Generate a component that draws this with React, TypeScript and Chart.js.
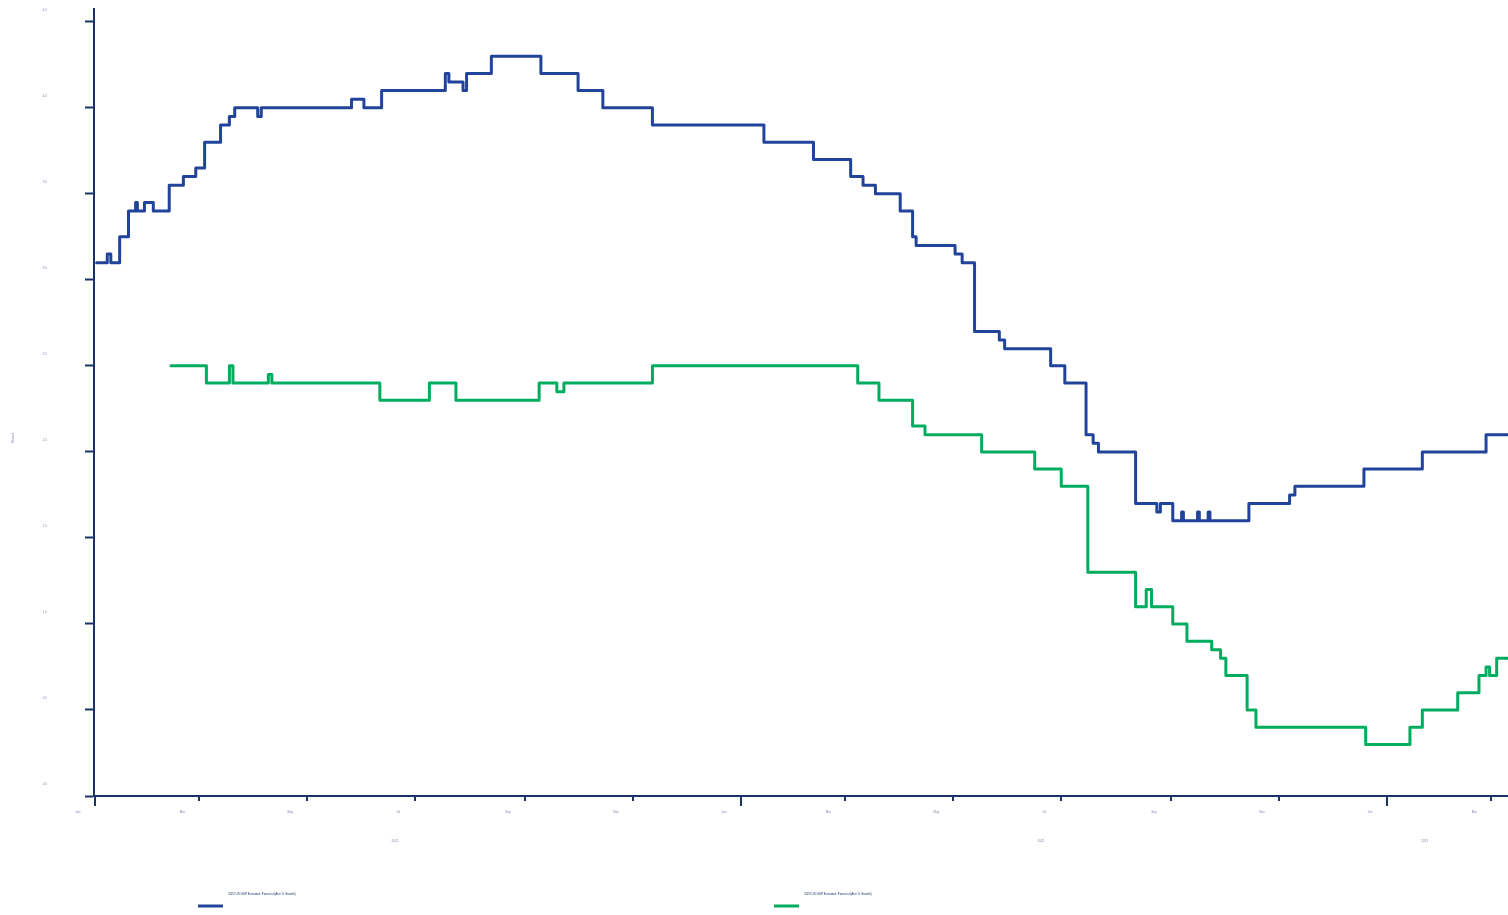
import React, { useEffect, useRef } from 'react';
import { Chart, registerables } from 'chart.js';

Chart.register(...registerables);

const ORIGIN = Date.UTC(2021, 0, 1);
const toDay = (s: string): number => {
  const [y, m, d] = s.split('-').map(Number);
  return (Date.UTC(y, m - 1, d) - ORIGIN) / 86400000;
};

const SERIES_LABELS = [
  '2022 US GDP Economic Forecast (Ann % Growth)',
  '2023 US GDP Economic Forecast (Ann % Growth)',
];

const GDP2022_DATES = [
  '2021-01-02', '2021-01-08', '2021-01-10', '2021-01-15', '2021-01-20', '2021-01-24', '2021-01-25',
  '2021-01-29', '2021-02-03', '2021-02-12', '2021-02-20', '2021-02-27', '2021-03-04', '2021-03-13',
  '2021-03-18', '2021-03-21', '2021-04-03', '2021-04-05', '2021-05-26', '2021-06-02', '2021-06-12',
  '2021-07-18', '2021-07-20', '2021-07-28', '2021-07-30', '2021-08-13', '2021-09-10', '2021-10-01',
  '2021-10-15', '2021-11-12', '2022-01-14', '2022-02-11', '2022-03-04', '2022-03-11', '2022-03-18',
  '2022-04-01', '2022-04-08', '2022-04-10', '2022-05-02', '2022-05-06', '2022-05-13', '2022-05-27',
  '2022-05-30', '2022-06-25', '2022-07-03', '2022-07-15', '2022-07-19', '2022-07-22', '2022-08-12',
  '2022-08-24', '2022-08-26', '2022-09-02', '2022-09-07', '2022-09-08', '2022-09-16', '2022-09-17',
  '2022-09-22', '2022-09-23', '2022-10-15', '2022-11-07', '2022-11-10', '2022-12-19', '2023-01-21',
  '2023-02-26', '2023-03-10',
];
const GDP2022_VALUES = [
  3.1, 3.15, 3.1, 3.25, 3.4, 3.45, 3.4,
  3.45, 3.4, 3.55, 3.6, 3.65, 3.8, 3.9,
  3.95, 4.0, 3.95, 4.0, 4.05, 4.0, 4.1,
  4.2, 4.15, 4.1, 4.2, 4.3, 4.2, 4.1,
  4.0, 3.9, 3.8, 3.7, 3.6, 3.55, 3.5,
  3.4, 3.25, 3.2, 3.15, 3.1, 2.7, 2.65,
  2.6, 2.5, 2.4, 2.1, 2.05, 2.0, 1.7,
  1.65, 1.7, 1.6, 1.65, 1.6, 1.65, 1.6,
  1.65, 1.6, 1.7, 1.75, 1.8, 1.9, 2.0,
  2.1, 2.1,
];

const GDP2023_DATES = [
  '2021-02-13', '2021-03-05', '2021-03-18', '2021-03-20', '2021-04-09', '2021-04-11', '2021-06-11',
  '2021-07-09', '2021-07-24', '2021-09-09', '2021-09-19', '2021-09-23', '2021-11-12', '2022-03-08',
  '2022-03-20', '2022-04-08', '2022-04-15', '2022-05-17', '2022-06-16', '2022-07-01', '2022-07-16',
  '2022-08-12', '2022-08-18', '2022-08-21', '2022-09-02', '2022-09-10', '2022-09-24', '2022-09-29',
  '2022-10-02', '2022-10-14', '2022-10-19', '2022-12-20', '2023-01-14', '2023-01-21', '2023-02-10',
  '2023-02-22', '2023-02-26', '2023-02-28', '2023-03-04', '2023-03-10',
];
const GDP2023_VALUES = [
  2.5, 2.4, 2.5, 2.4, 2.45, 2.4, 2.3,
  2.4, 2.3, 2.4, 2.35, 2.4, 2.5, 2.4,
  2.3, 2.15, 2.1, 2.0, 1.9, 1.8, 1.3,
  1.1, 1.2, 1.1, 1.0, 0.9, 0.85, 0.8,
  0.7, 0.5, 0.4, 0.3, 0.4, 0.5, 0.6,
  0.7, 0.75, 0.7, 0.8, 0.8,
];

const X_TICK_DATES = [
  '2021-01-01', '2021-03-01', '2021-05-01', '2021-07-01', '2021-09-01', '2021-11-01',
  '2022-01-01', '2022-03-01', '2022-05-01', '2022-07-01', '2022-09-01', '2022-11-01',
  '2023-01-01', '2023-03-01',
];
const X_TICK_LABELS = [
  'Jan', 'Mar', 'May', 'Jul', 'Sep', 'Nov',
  'Jan', 'Mar', 'May', 'Jul', 'Sep', 'Nov',
  'Jan', 'Mar',
];
const YEAR_LABELS = ['2021', '2022', '2023'];
const YEAR_STARTS = ['2021-01-01', '2022-01-01', '2023-01-01'];
const Y_TICKS = [0, 0.5, 1.0, 1.5, 2.0, 2.5, 3.0, 3.5, 4.0, 4.5];
const Y_TITLE = 'Percent';

const NAVY = '#1a3366';
const BLUE = '#21449a';
const GREEN = '#00ad5f';
const LABEL = '#7d87a8';
const FONT_FAMILY = "'Liberation Sans', Arial, sans-serif";

export default function App() {
  const ref = useRef<HTMLCanvasElement>(null);

  useEffect(() => {
    const canvas = ref.current;
    if (!canvas) return;
    const font = { family: FONT_FAMILY, size: 3 };
    const xTickValues = X_TICK_DATES.map(toDay);
    const yearStarts = YEAR_STARTS.map(toDay);
    const colors = [BLUE, GREEN];
    const legendX = [190, 766];

    const decor = {
      id: 'decor',
      afterDraw(chart: any) {
        const { ctx, chartArea, scales } = chart;
        const xs = scales.x;
        ctx.save();
        // x tick marks (long for January)
        ctx.strokeStyle = NAVY;
        ctx.lineWidth = 2;
        xTickValues.forEach((v: number, i: number) => {
          const px = Math.round(xs.getPixelForValue(v));
          const len = X_TICK_LABELS[i] === 'Jan' ? 10 : 5;
          ctx.beginPath();
          ctx.moveTo(px, chartArea.bottom);
          ctx.lineTo(px, chartArea.bottom + len);
          ctx.stroke();
        });
        // year labels
        ctx.fillStyle = LABEL;
        ctx.font = `3px ${FONT_FAMILY}`;
        ctx.textAlign = 'center';
        ctx.textBaseline = 'middle';
        YEAR_LABELS.forEach((lab, i) => {
          const s = Math.max(xs.getPixelForValue(yearStarts[i]), chartArea.left);
          const e = i + 1 < yearStarts.length
            ? Math.min(xs.getPixelForValue(yearStarts[i + 1]), chartArea.right)
            : chartArea.right;
          ctx.fillText(lab, (s + e) / 2 - 23, chartArea.bottom + 45);
        });
        // y axis title
        ctx.save();
        ctx.translate(5, (chartArea.top + chartArea.bottom) / 2 + 36);
        ctx.rotate(-Math.PI / 2);
        ctx.fillText(Y_TITLE, 0, 0);
        ctx.restore();
        // legend
        ctx.textAlign = 'left';
        chart.data.datasets.forEach((ds: any, i: number) => {
          const x0 = legendX[i];
          const y0 = chartArea.bottom + 110;
          ctx.strokeStyle = colors[i];
          ctx.lineWidth = 3;
          ctx.beginPath();
          ctx.moveTo(x0, y0);
          ctx.lineTo(x0 + 25, y0);
          ctx.stroke();
          ctx.fillStyle = NAVY;
          ctx.fillText(ds.label, x0 + 30, y0 - 12);
        });
        ctx.restore();
      },
    };

    const chart = new Chart(canvas, {
      type: 'line',
      data: {
        datasets: [
          {
            label: SERIES_LABELS[0],
            data: GDP2022_DATES.map((d, i) => ({ x: toDay(d), y: GDP2022_VALUES[i] })),
            borderColor: BLUE,
            borderWidth: 3,
            pointRadius: 0,
            stepped: 'before',
            borderJoinStyle: 'round',
            borderCapStyle: 'round',
            fill: false,
          },
          {
            label: SERIES_LABELS[1],
            data: GDP2023_DATES.map((d, i) => ({ x: toDay(d), y: GDP2023_VALUES[i] })),
            borderColor: GREEN,
            borderWidth: 3,
            pointRadius: 0,
            stepped: 'before',
            borderJoinStyle: 'round',
            borderCapStyle: 'round',
            fill: false,
          },
        ],
      },
      options: {
        animation: false,
        responsive: false,
        maintainAspectRatio: false,
        layout: { padding: { top: 0, right: 0, bottom: 59, left: 0 } },
        plugins: { legend: { display: false }, tooltip: { enabled: false } },
        scales: {
          x: {
            type: 'linear',
            min: -0.5,
            max: 798.4,
            afterBuildTicks: (s: any) => {
              s.ticks = xTickValues.map((v) => ({ value: v }));
            },
            afterFit: (s: any) => {
              s.height = 60;
              s.paddingLeft = 0;
              s.paddingRight = 0;
            },
            ticks: {
              callback: (_v: any, i: number) => X_TICK_LABELS[i],
              font,
              color: LABEL,
              padding: 6,
              labelOffset: -17,
              maxRotation: 0,
              autoSkip: false,
            },
            grid: { display: false },
            border: { display: true, color: NAVY, width: 2 },
          },
          y: {
            type: 'linear',
            min: 0,
            max: 4.58,
            afterBuildTicks: (s: any) => {
              s.ticks = Y_TICKS.map((v) => ({ value: v }));
            },
            afterFit: (s: any) => {
              s.width = 86;
              s.paddingTop = 0;
              s.paddingBottom = 0;
            },
            ticks: {
              callback: (v: any) => Number(v).toFixed(1),
              font,
              color: LABEL,
              padding: 38,
              labelOffset: -12,
            },
            grid: {
              display: true,
              drawOnChartArea: false,
              drawTicks: true,
              tickLength: 9,
              tickWidth: 2,
              tickColor: NAVY,
            },
            border: { display: true, color: NAVY, width: 2 },
          },
        },
      },
      plugins: [decor],
    } as any);

    return () => chart.destroy();
  }, []);

  return (
    <div style={{ position: 'absolute', left: 8, top: 8, width: 1500, height: 907 }}>
      <canvas ref={ref} width={1500} height={907} style={{ display: 'block', width: 1500, height: 907 }} />
    </div>
  );
}
